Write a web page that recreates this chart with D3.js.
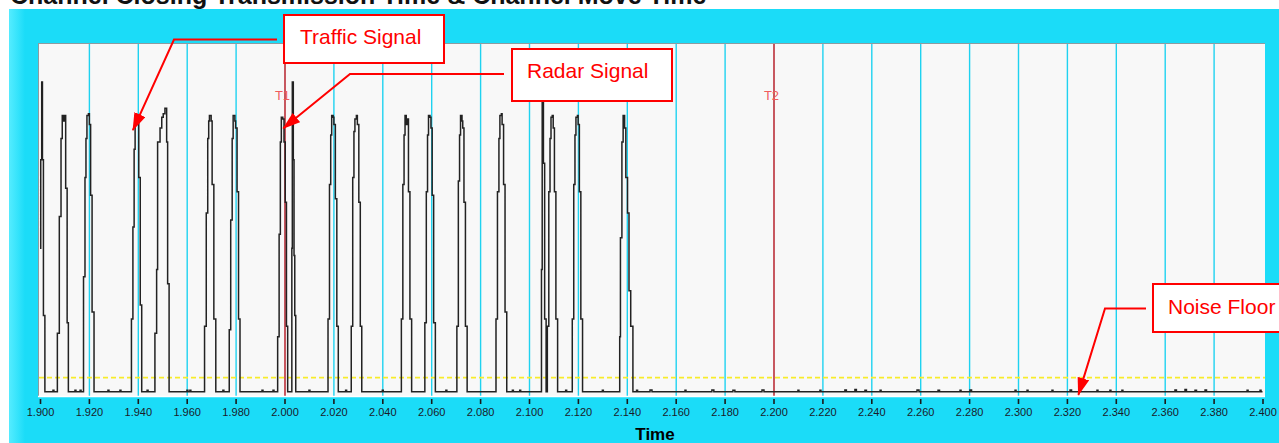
<!DOCTYPE html>
<html><head><meta charset="utf-8">
<script src="https://cdn.jsdelivr.net/npm/d3@7"></script>
<style>html,body{margin:0;padding:0;background:#fff;overflow:hidden}</style>
</head><body><svg id="c" width="1279" height="443"></svg>
<script>
// ---------- data ----------
const titleText = "Channel Closing Transmission Time & Channel Move Time";
const axisTitle = "Time";
const timeTicks = [1.900,1.920,1.940,1.960,1.980,2.000,2.020,2.040,2.060,2.080,2.100,2.120,2.140,
                   2.160,2.180,2.200,2.220,2.240,2.260,2.280,2.300,2.320,2.340,2.360,2.380,2.400];
const markerTimes = [2.000, 2.200];
const markerLabels = ["T1", "T2"];
const thresholdLevel = [5.5];

// traffic bursts [time, relative level]
const trafficSignal = [
  [1.9071,18],[1.9079,51],[1.9086,73],[1.9091,79.5],[1.9096,78],[1.9099,79.5],[1.9105,59],[1.9111,21],[1.9116,1.5],
  [1.9178,34],[1.9184,62],[1.9188,73],[1.9192,79.5],[1.9198,80],[1.9202,77],[1.9207,57],[1.9213,24],[1.9221,1.5],
  [1.9374,22],[1.9380,48],[1.9385,70],[1.9389,79.5],[1.9395,79],[1.9398,78],[1.9404,62],[1.9410,26],[1.9416,1.5],
  [1.9470,18],[1.9477,36],[1.9481,72],[1.9491,76],[1.9498,79],[1.9504,80],[1.9511,81.6],[1.9518,72],[1.9522,32],[1.9528,1.5],
  [1.9673,20],[1.9680,52],[1.9686,73],[1.9690,78],[1.9693,79.5],[1.9700,78],[1.9704,60],[1.9711,22],[1.9719,1.5],
  [1.9774,19],[1.9780,50],[1.9786,73],[1.9790,79.5],[1.9797,78],[1.9800,76],[1.9806,58],[1.9812,22],[1.9818,1.5],
  [1.9972,17],[1.9978,46],[1.9983,72],[1.9987,79],[1.9993,78.5],[1.9998,72],[2.0003,55],[2.0008,20],[2.0013,1.5],
  [2.0178,22],[2.0184,60],[2.0189,74],[2.0193,79.5],[2.0199,79],[2.0202,77],[2.0208,56],[2.0214,20],[2.0220,1.5],
  [2.0273,20],[2.0279,62],[2.0284,75],[2.0288,78.5],[2.0294,79.5],[2.0298,77],[2.0304,55],[2.0310,20],[2.0316,1.5],
  [2.0478,22],[2.0484,60],[2.0489,74],[2.0493,79.5],[2.0498,77],[2.0501,78.5],[2.0507,58],[2.0513,22],[2.0520,1.5],
  [2.0574,21],[2.0580,58],[2.0585,74],[2.0589,79.5],[2.0595,79],[2.0599,76],[2.0604,57],[2.0610,21],[2.0617,1.5],
  [2.0705,20],[2.0711,61],[2.0716,74],[2.0720,79.5],[2.0726,78],[2.0729,76],[2.0734,55],[2.0740,20],[2.0747,1.5],
  [2.0865,22],[2.0871,58],[2.0877,73],[2.0881,79.5],[2.0887,80],[2.0890,77],[2.0896,60],[2.0902,24],[2.0909,1.5],
  [2.1075,20],[2.1081,58],[2.1086,73],[2.1090,79],[2.1095,79.5],[2.1099,76],[2.1104,58],[2.1110,22],[2.1117,1.5],
  [2.1177,22],[2.1183,60],[2.1188,74],[2.1192,79],[2.1198,79.5],[2.1201,77],[2.1206,58],[2.1212,22],[2.1219,1.5],
  [2.1371,17],[2.1374,45],[2.1380,72],[2.1385,79.5],[2.1391,76],[2.1396,62],[2.1403,52],[2.1409,30],[2.1416,20],[2.1425,1.5]
];

// radar pulses [time, relative level]
const radarSignal = [
  [1.9000,42],[1.9003,67],[1.9007,89],[1.9010,67],[1.9014,23],[1.9020,1.5],
  [2.0030,42],[2.0032,89],[2.0036,67],[2.0039,40],[2.0042,23],[2.0046,1.5],
  [2.1051,36],[2.1054,89],[2.1059,66],[2.1064,22],[2.1070,1.5]
];

// noise floor ripples [time, relative level]
const noiseFloor = [
  [1.9053,1.9],[1.9057,1.5],[1.9143,1.9],[1.9147,1.5],[1.9164,1.9],[1.9168,1.5],
  [1.9278,1.9],[1.9282,1.5],[1.9327,1.9],[1.9331,1.5],[1.9438,1.9],[1.9442,1.5],
  [1.9601,1.9],[1.9605,1.5],[1.9613,1.9],[1.9617,1.5],[1.9748,1.9],[1.9752,1.5],
  [1.9908,1.9],[1.9912,1.5],[1.9953,1.9],[1.9957,1.5],[2.0100,1.9],[2.0104,1.5],
  [2.0250,1.9],[2.0254,1.5],[2.0400,1.9],[2.0404,1.5],[2.0660,1.9],[2.0664,1.5],
  [2.0932,1.9],[2.0936,1.5],[2.0962,1.9],[2.0966,1.5],[2.1150,1.9],[2.1154,1.5],
  [2.1300,1.9],[2.1304,1.5],
  [2.1440,1.9],[2.1444,1.5],[2.1495,2.0],[2.1503,1.5],[2.1638,1.9],[2.1642,1.5],
  [2.1748,2.0],[2.1756,1.5],[2.1834,1.9],[2.1842,1.5],[2.1953,2.0],[2.1961,1.5],
  [2.2100,1.9],[2.2104,1.5],[2.2190,1.9],[2.2194,1.5],[2.2292,2.0],[2.2298,1.5],
  [2.2333,2.1],[2.2339,1.5],[2.2374,1.9],[2.2380,1.5],[2.2436,1.9],[2.2440,1.5],
  [2.2587,2.0],[2.2595,1.5],[2.2673,1.9],[2.2679,1.5],[2.2763,1.9],[2.2767,1.5],
  [2.2804,2.0],[2.2810,1.5],[2.2988,1.9],[2.2992,1.5],[2.3037,1.9],[2.3041,1.5],
  [2.3139,1.9],[2.3143,1.5],[2.3213,2.0],[2.3219,1.5],[2.3323,1.9],[2.3327,1.5],
  [2.3376,1.9],[2.3380,1.5],[2.3425,1.9],[2.3429,1.5],[2.3642,2.0],[2.3648,1.5],
  [2.3683,2.1],[2.3689,1.5],[2.3724,1.9],[2.3730,1.5],[2.3765,2.0],[2.3771,1.5],
  [2.3937,1.9],[2.3941,1.5],[2.3990,1.9],[2.3994,1.5],[2.4000,1.5]
];

// callouts: label and the point (time, level) the arrow points at
const calloutLabels = ["Traffic Signal", "Radar Signal", "Noise Floor"];
const calloutTimes = [1.9380, 1.9995, 2.3247];
const calloutLevels = [75.4, 75.9, 0.6];

// ---------- drawing ----------
const W = 1279, H = 443;
const svg = d3.select("#c");
const font = "'Liberation Sans', Arial, Helvetica, sans-serif";

const plot = {left: 38, right: 1265, top: 43, bottom: 397};
const x = d3.scaleLinear().domain([1.9, 2.4]).range([40, 1262.5]);
const y = d3.scaleLinear().domain([0, 100]).range([397, 43]);

svg.append("rect").attr("width", W).attr("height", H).attr("fill", "#ffffff");
const defs = svg.append("defs");
const g1 = defs.append("linearGradient").attr("id", "lg").attr("x1", 0).attr("x2", 1);
g1.append("stop").attr("offset", 0).attr("stop-color", "#55ecff");
g1.append("stop").attr("offset", 1).attr("stop-color", "#1bdcf8");
svg.append("rect").attr("x", 9).attr("y", 9).attr("width", W - 9).attr("height", H - 9).attr("fill", "#1bdcf8");
svg.append("rect").attr("x", 9).attr("y", 9).attr("width", 16).attr("height", H - 9).attr("fill", "url(#lg)");

svg.append("text").attr("x", 10).attr("y", 3.5).attr("font-family", font).attr("font-weight", "bold")
  .attr("font-size", 25).attr("fill", "#111").text(titleText);

// plot background
svg.append("rect").attr("x", plot.left).attr("y", plot.top)
  .attr("width", plot.right - plot.left).attr("height", plot.bottom - plot.top).attr("fill", "#f8f8f8");

// grid
svg.append("g").selectAll("line").data(timeTicks.slice(1, -1)).join("line")
  .attr("x1", d => x(d) + 0.5).attr("x2", d => x(d) + 0.5)
  .attr("y1", plot.top).attr("y2", plot.bottom)
  .attr("stroke", "#1fd2f0").attr("stroke-width", 1.4);

// threshold
svg.append("g").selectAll("line").data(thresholdLevel).join("line")
  .attr("x1", plot.left + 1).attr("x2", plot.right)
  .attr("y1", d => y(d)).attr("y2", d => y(d))
  .attr("stroke", "#f7ec2a").attr("stroke-width", 1.8).attr("stroke-dasharray", "5,3");

// markers
const mk = svg.append("g");
mk.selectAll("line").data(markerTimes).join("line")
  .attr("x1", d => x(d) + 0.5).attr("x2", d => x(d) + 0.5)
  .attr("y1", plot.top).attr("y2", plot.bottom)
  .attr("stroke", "#ff1010").attr("stroke-width", 1.3);
mk.selectAll("text").data(markerTimes).join("text")
  .attr("x", d => x(d) - 2).attr("y", 100).attr("text-anchor", "middle")
  .attr("font-family", font).attr("font-size", 13).attr("fill", "#f05c5c")
  .text((d, i) => markerLabels[i]);

// trace
const trace = trafficSignal.concat(radarSignal, noiseFloor).sort((a, b) => a[0] - b[0]);
const line = d3.line().x(d => x(d[0])).y(d => y(d[1])).curve(d3.curveStepAfter);
svg.append("path").datum(trace).attr("d", line)
  .attr("fill", "none").attr("stroke", "#222222").attr("stroke-width", 1.5)
  .attr("stroke-linejoin", "miter");

// frame
svg.append("line").attr("x1", plot.left).attr("x2", plot.right).attr("y1", plot.top + 0.5).attr("y2", plot.top + 0.5)
  .attr("stroke", "#8d9ba0");
svg.append("line").attr("x1", plot.left + 0.5).attr("x2", plot.left + 0.5).attr("y1", plot.top).attr("y2", plot.bottom)
  .attr("stroke", "#8d9ba0");
svg.append("line").attr("x1", plot.left).attr("x2", plot.right).attr("y1", plot.bottom - 0.5).attr("y2", plot.bottom - 0.5)
  .attr("stroke", "#ffffff").attr("stroke-width", 1.5);

// axis
const ax = svg.append("g").attr("transform", "translate(0,399)")
  .call(d3.axisBottom(x).tickValues(timeTicks).tickFormat(d3.format(".3f")).tickSize(5).tickPadding(4));
ax.select(".domain").remove();
ax.selectAll(".tick line").attr("stroke", "#1a1a1a").attr("stroke-width", 1.6);
ax.selectAll(".tick text").attr("font-family", font).attr("font-size", 11).attr("fill", "#1a1a2a");

svg.append("text").attr("x", 655).attr("y", 440).attr("text-anchor", "middle")
  .attr("font-family", font).attr("font-weight", "bold").attr("font-size", 17).attr("fill", "#000")
  .text(axisTitle);

// callouts
const mark = defs.append("marker").attr("id", "arr").attr("viewBox", "0 -6 18 12")
  .attr("refX", 17).attr("refY", 0).attr("markerWidth", 18).attr("markerHeight", 12)
  .attr("markerUnits", "userSpaceOnUse").attr("orient", "auto");
mark.append("path").attr("d", "M0,-6L18,0L0,6Z").attr("fill", "#ff0000");

const boxes = [
  {bx: 284, by: 15, bw: 160, bh: 48, tx: 300, ty: 43.5, hy: 39.5, hx1: 277, hx2: 174},
  {bx: 512, by: 49, bw: 160, bh: 52, tx: 527, ty: 78, hy: 74, hx1: 504, hx2: 350},
  {bx: 1153, by: 284, bw: 170, bh: 48, tx: 1168, ty: 313.5, hy: 308.5, hx1: 1146, hx2: 1105}
];
const cg = svg.append("g");
boxes.forEach((b, i) => {
  const tipX = x(calloutTimes[i]), tipY = y(calloutLevels[i]);
  cg.append("path")
    .attr("d", `M${b.hx1},${b.hy}L${b.hx2},${b.hy}L${tipX},${tipY}`)
    .attr("fill", "none").attr("stroke", "#ff0000").attr("stroke-width", 2)
    .attr("marker-end", "url(#arr)");
  cg.append("rect").attr("x", b.bx).attr("y", b.by).attr("width", b.bw).attr("height", b.bh)
    .attr("fill", "#ffffff").attr("stroke", "#ff0000").attr("stroke-width", 2);
  cg.append("text").attr("x", b.tx).attr("y", b.ty).attr("font-family", font)
    .attr("font-size", 21).attr("fill", "#ff0000").text(calloutLabels[i]);
});
</script></body></html>
